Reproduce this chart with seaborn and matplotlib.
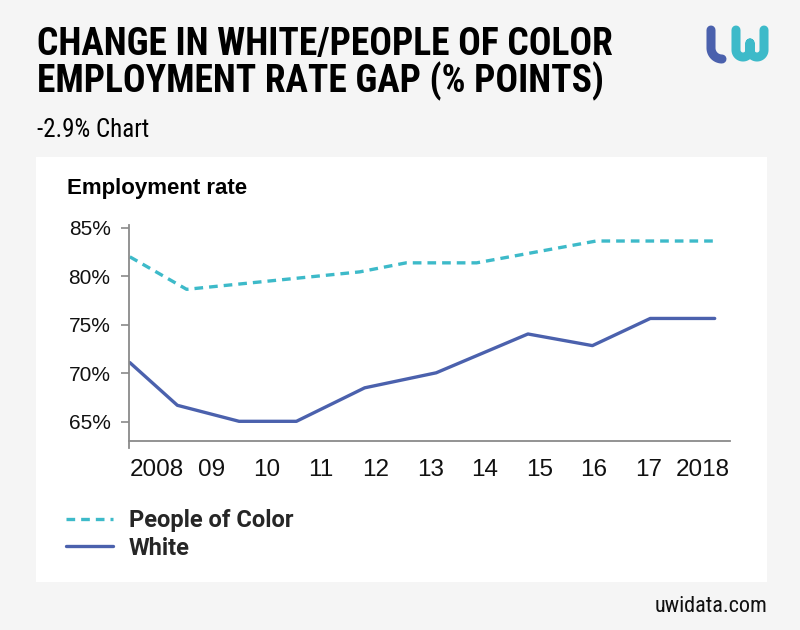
import numpy as np
import pandas as pd
import matplotlib
matplotlib.use('Agg')
import matplotlib.pyplot as plt
import seaborn as sns
from matplotlib import font_manager
from matplotlib.patches import Rectangle

# data (x as fractional year)
poc_years = [2008.0, 2009.04, 2012.21, 2013.06, 2014.35, 2016.54, 2018.71]
poc_rate = [82.0, 78.65, 80.45, 81.38, 81.38, 83.63, 83.63]
white_years = [2008.0, 2008.87, 2010.0, 2011.05, 2012.30, 2013.61, 2015.29, 2016.47, 2017.53, 2018.71]
white_rate = [71.1, 66.7, 65.05, 65.05, 68.5, 70.05, 74.05, 72.85, 75.65, 75.65]
tick_years = [2008.5 + i for i in range(11)]
tick_labels = ['2008', '09', '10', '11', '12', '13', '14', '15', '16', '17', '2018']
y_ticks = [65, 70, 75, 80, 85]

poc_color = '#3dbac9'
white_color = '#4b61ad'

# pick a condensed face if one is installed
installed = {f.name for f in font_manager.fontManager.ttflist}
cond_stretch = 'normal'
if 'Roboto Condensed' in installed:
    narrow = ['Roboto Condensed', 'DejaVu Sans']
elif 'Liberation Sans Narrow' in installed:
    narrow = ['Liberation Sans Narrow', 'DejaVu Sans']
else:
    narrow = ['DejaVu Sans']
    cond_stretch = 'condensed'
roboto = ['Roboto', 'DejaVu Sans']
regular = ['Liberation Sans', 'DejaVu Sans']

sns.set_style('white')
plt.rcParams['font.family'] = regular

fig = plt.figure(figsize=(8, 6.3), dpi=100, facecolor='#f5f5f5')

# background layer in pixel coordinates
bg = fig.add_axes([0, 0, 1, 1], zorder=0)
bg.set_xlim(0, 800)
bg.set_ylim(630, 0)
bg.axis('off')
bg.add_patch(Rectangle((36, 157), 731, 425, facecolor='white', edgecolor='none'))

# logo
t = np.linspace(np.pi, 0.5 * np.pi, 20)
lx = np.concatenate([[711, 711], 722 + 11 * np.cos(t)])
ly = np.concatenate([[30, 48], 48 + 11 * np.sin(t)])
bg.plot(lx, ly, color=white_color, lw=6.5, solid_capstyle='round', solid_joinstyle='round')
h = np.linspace(np.pi, 0, 30)
wx = np.concatenate([[736, 736], 743 + 7 * np.cos(h), [750, 750], [750], 757 + 7 * np.cos(h), [764, 764]])
wy = np.concatenate([[30, 50], 50 + 7 * np.sin(h), [50, 43], [50], 50 + 7 * np.sin(h), [50, 30]])
bg.plot(wx, wy, color=poc_color, lw=6.5, solid_capstyle='round', solid_joinstyle='round')

# texts
title_kw = dict(fontsize=27, fontweight='bold', family=narrow, fontstretch=cond_stretch,
                color='black', va='baseline')
bg.text(37, 55, 'CHANGE IN WHITE/PEOPLE OF COLOR', **title_kw)
bg.text(37, 92, 'EMPLOYMENT RATE GAP (% POINTS)', **title_kw)
bg.text(37, 137, '-2.9% Chart', fontsize=18, family=narrow, fontstretch=cond_stretch,
        color='black', va='baseline')
bg.text(67, 194, 'Employment rate', fontsize=16, fontweight='bold', color='black', va='baseline')
bg.text(767, 612, 'uwidata.com', fontsize=16, family=narrow, fontstretch=cond_stretch,
        color='#111111', ha='right', va='baseline')

# main chart
ax = fig.add_axes([129.3 / 800, 1 - 448 / 630, 600.7 / 800, (448 - 225) / 630], zorder=2)
ax.set_facecolor('none')
sns.lineplot(x=poc_years, y=poc_rate, ax=ax, color=poc_color, lw=2.4,
             label='People of Color', dashes=False)
sns.lineplot(x=white_years, y=white_rate, ax=ax, color=white_color, lw=2.4,
             label='White', dashes=False)
ax.get_lines()[0].set_dashes([2.6, 1.8])

ax.set_xlim(2007.99, 2018.99)
ax.set_ylim(62.3, 85.28)
ax.set_yticks(y_ticks)
ax.set_yticklabels([f'{v}%' for v in y_ticks])
ax.set_xticks(tick_years)
ax.set_xticklabels(tick_labels, family=roboto)

for s in ['top', 'right']:
    ax.spines[s].set_visible(False)
ax.spines['bottom'].set_position(('data', 63.04))
ax.spines['bottom'].set_bounds(2007.99, 2018.99)
for s in ['left', 'bottom']:
    ax.spines[s].set_color('#8a8a8a')
    ax.spines[s].set_linewidth(1.3)

ax.tick_params(axis='y', which='both', length=5.5, width=1.2, color='#8a8a8a',
               labelsize=15, pad=8, left=True, labelcolor='#111111')
ax.tick_params(axis='x', length=0, labelsize=17.5, pad=13, labelcolor='#111111')
ax.set_xlabel('')
ax.set_ylabel('')
ax.grid(False)

handles, labels = ax.get_legend_handles_labels()
ax.legend_.remove()
fig.legend(handles, labels, loc='upper left', bbox_to_anchor=(66 / 800, 1 - 509 / 630),
           frameon=False,
           prop={'family': roboto, 'weight': 'bold', 'size': 17},
           handlelength=2.0, handletextpad=0.65, labelspacing=0.2,
           borderpad=0, borderaxespad=0)

fig.savefig('out.png', dpi=100, facecolor=fig.get_facecolor())
